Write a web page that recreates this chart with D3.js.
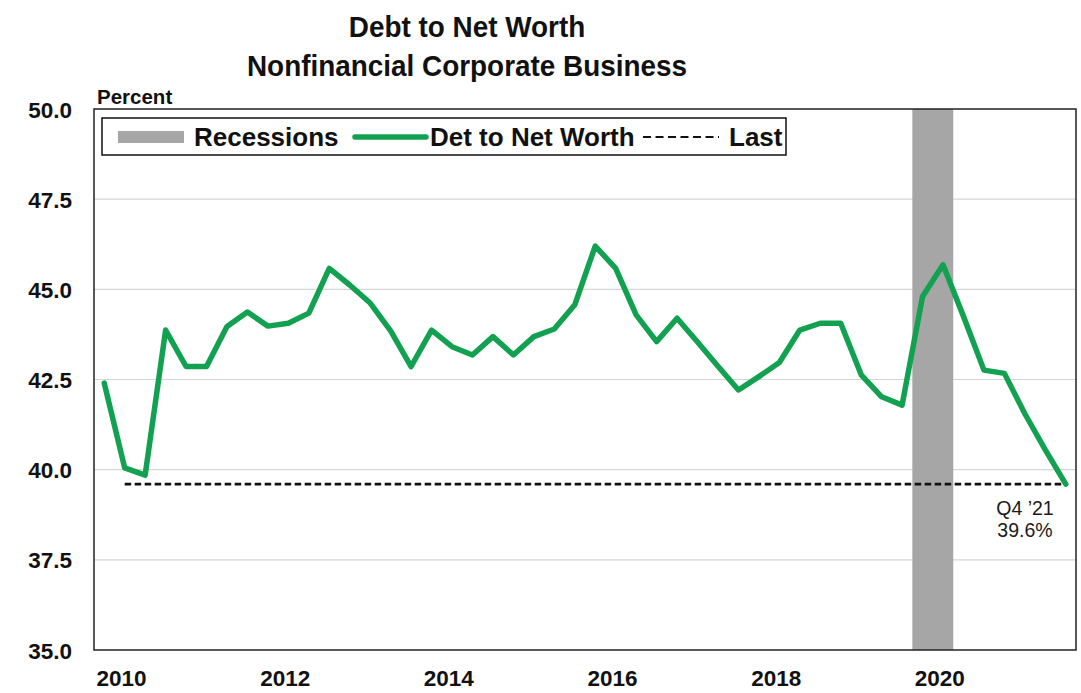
<!DOCTYPE html>
<html>
<head>
<meta charset="utf-8">
<script src="https://cdn.jsdelivr.net/npm/d3@7"></script>
<style>
  html, body { margin: 0; padding: 0; background: #fff; }
  svg { display: block; font-family: "Liberation Sans", Arial, sans-serif; }
</style>
</head>
<body>
<svg id="chart" width="1081" height="693"></svg>
<script>
// Quarterly debt-to-net-worth ratio, nonfinancial corporate business, Q1 2010 – Q4 2021
const quarters = [];
for (let y = 2010; y <= 2021; y++) for (let q = 1; q <= 4; q++) quarters.push(`${y}Q${q}`);

const debtToNetWorth = [
  42.40, 40.05, 39.85, 43.87,
  42.86, 42.86, 43.97, 44.37,
  43.98, 44.06, 44.34, 45.58,
  45.12, 44.62, 43.85, 42.86,
  43.87, 43.41, 43.18, 43.69,
  43.18, 43.69, 43.90, 44.57,
  46.20, 45.58, 44.29, 43.55,
  44.20, 43.54, 42.87, 42.21,
  42.58, 42.97, 43.87, 44.06,
  44.06, 42.63, 42.02, 41.79,
  44.80, 45.68, 44.25, 42.76,
  42.67, 41.55, 40.55, 39.6
];

const recessionQuarters = ["2020Q1", "2020Q2"];
const lastValue = 39.6;
const lastLabel = "Q4 \u201921";
const yTicks = [35.0, 37.5, 40.0, 42.5, 45.0, 47.5, 50.0];
const yearLabels = [2010, 2012, 2014, 2016, 2018, 2020];

const svg = d3.select("#chart");
const plot = { left: 94, right: 1076, top: 109, bottom: 650 };
const green = "#12a150";

const x = d3.scaleLinear().domain([-0.5, quarters.length - 0.5]).range([plot.left, plot.right]);
const y = d3.scaleLinear().domain([35, 50]).range([plot.bottom, plot.top]);
const qi = d => quarters.indexOf(d);

// Title (slightly condensed bold face)
const title = svg.append("g").attr("font-weight", "bold").attr("text-anchor", "middle")
  .attr("font-size", 30).attr("fill", "#111")
  .attr("transform", "translate(467,0) scale(0.93,1)");
title.append("text").attr("x", 0).attr("y", 37).text("Debt to Net Worth");
title.append("text").attr("x", 0).attr("y", 76).text("Nonfinancial Corporate Business");

// Unit label
svg.append("text").attr("x", 97).attr("y", 104).attr("font-size", 20.5).attr("font-weight", "bold")
  .attr("fill", "#111").text("Percent");

// Horizontal grid
svg.append("g").selectAll("line").data(yTicks.filter(t => t > 35 && t < 50)).join("line")
  .attr("x1", plot.left).attr("x2", plot.right)
  .attr("y1", d => y(d)).attr("y2", d => y(d))
  .attr("stroke", "#d6d6d6").attr("stroke-width", 1.2);

// Recession shading
const recStart = d3.min(recessionQuarters, qi), recEnd = d3.max(recessionQuarters, qi);
svg.append("rect")
  .attr("x", x(recStart - 0.5)).attr("width", x(recEnd + 0.5) - x(recStart - 0.5))
  .attr("y", plot.top).attr("height", plot.bottom - plot.top)
  .attr("fill", "#a6a6a6");

// Y axis labels
const yAxis = d3.axisLeft(y).tickValues(yTicks).tickSize(0).tickPadding(0).tickFormat(d3.format(".1f"));
const yg = svg.append("g").attr("transform", `translate(${72},0)`).call(yAxis);
yg.select(".domain").remove();
yg.selectAll("text").attr("font-size", 22.5).attr("font-weight", "bold").attr("fill", "#111")
  .attr("font-family", "Liberation Sans, Arial, sans-serif").attr("dy", "0.36em");

// X axis year labels
const xAxis = d3.axisBottom(x).tickValues(yearLabels.map(yr => qi(`${yr}Q1`) + 0.82))
  .tickSize(0).tickPadding(0).tickFormat((d, i) => yearLabels[i]);
const xg = svg.append("g").attr("transform", `translate(0,${670})`).call(xAxis);
xg.select(".domain").remove();
xg.selectAll("text").attr("font-size", 22.5).attr("font-weight", "bold").attr("fill", "#111")
  .attr("font-family", "Liberation Sans, Arial, sans-serif").attr("dy", "0.71em");

// Last-value reference line
svg.append("line")
  .attr("x1", x(1)).attr("x2", x(quarters.length - 1))
  .attr("y1", y(lastValue)).attr("y2", y(lastValue))
  .attr("stroke", "#111").attr("stroke-width", 2.8).attr("stroke-dasharray", "6.5,3.5");

// Series line
const line = d3.line().x((d, i) => x(i)).y(d => y(d));
svg.append("path").datum(debtToNetWorth)
  .attr("d", line).attr("fill", "none").attr("stroke", green)
  .attr("stroke-width", 5.5).attr("stroke-linejoin", "round").attr("stroke-linecap", "round");

// Last value annotation
const ann = svg.append("g").attr("text-anchor", "middle").attr("font-size", 19.5).attr("fill", "#1a1a1a");
ann.append("text").attr("x", 1025).attr("y", 515).text(lastLabel);
ann.append("text").attr("x", 1025).attr("y", 537).text(`${d3.format(".1f")(debtToNetWorth[debtToNetWorth.length - 1])}%`);

// Plot frame
svg.append("rect").attr("x", plot.left).attr("y", plot.top)
  .attr("width", plot.right - plot.left).attr("height", plot.bottom - plot.top)
  .attr("fill", "none").attr("stroke", "#222").attr("stroke-width", 1.5);

// Legend
const lg = svg.append("g");
lg.append("rect").attr("x", 102).attr("y", 118).attr("width", 684).attr("height", 37)
  .attr("fill", "#fff").attr("stroke", "#111").attr("stroke-width", 1.5);
lg.append("rect").attr("x", 118).attr("y", 131).attr("width", 66).attr("height", 12).attr("fill", "#a6a6a6");
lg.append("line").attr("x1", 355).attr("x2", 426).attr("y1", 137).attr("y2", 137)
  .attr("stroke", green).attr("stroke-width", 5.5).attr("stroke-linecap", "round");
lg.append("line").attr("x1", 643).attr("x2", 719).attr("y1", 137).attr("y2", 137)
  .attr("stroke", "#111").attr("stroke-width", 2.2).attr("stroke-dasharray", "8,4.5");
const lt = lg.append("g").attr("font-size", 26).attr("font-weight", "bold").attr("fill", "#111");
lt.append("text").attr("x", 194).attr("y", 146).text("Recessions");
lt.append("text").attr("x", 430).attr("y", 146).text("Det to Net Worth");
lt.append("text").attr("x", 729).attr("y", 146).text("Last");
</script>
</body>
</html>
